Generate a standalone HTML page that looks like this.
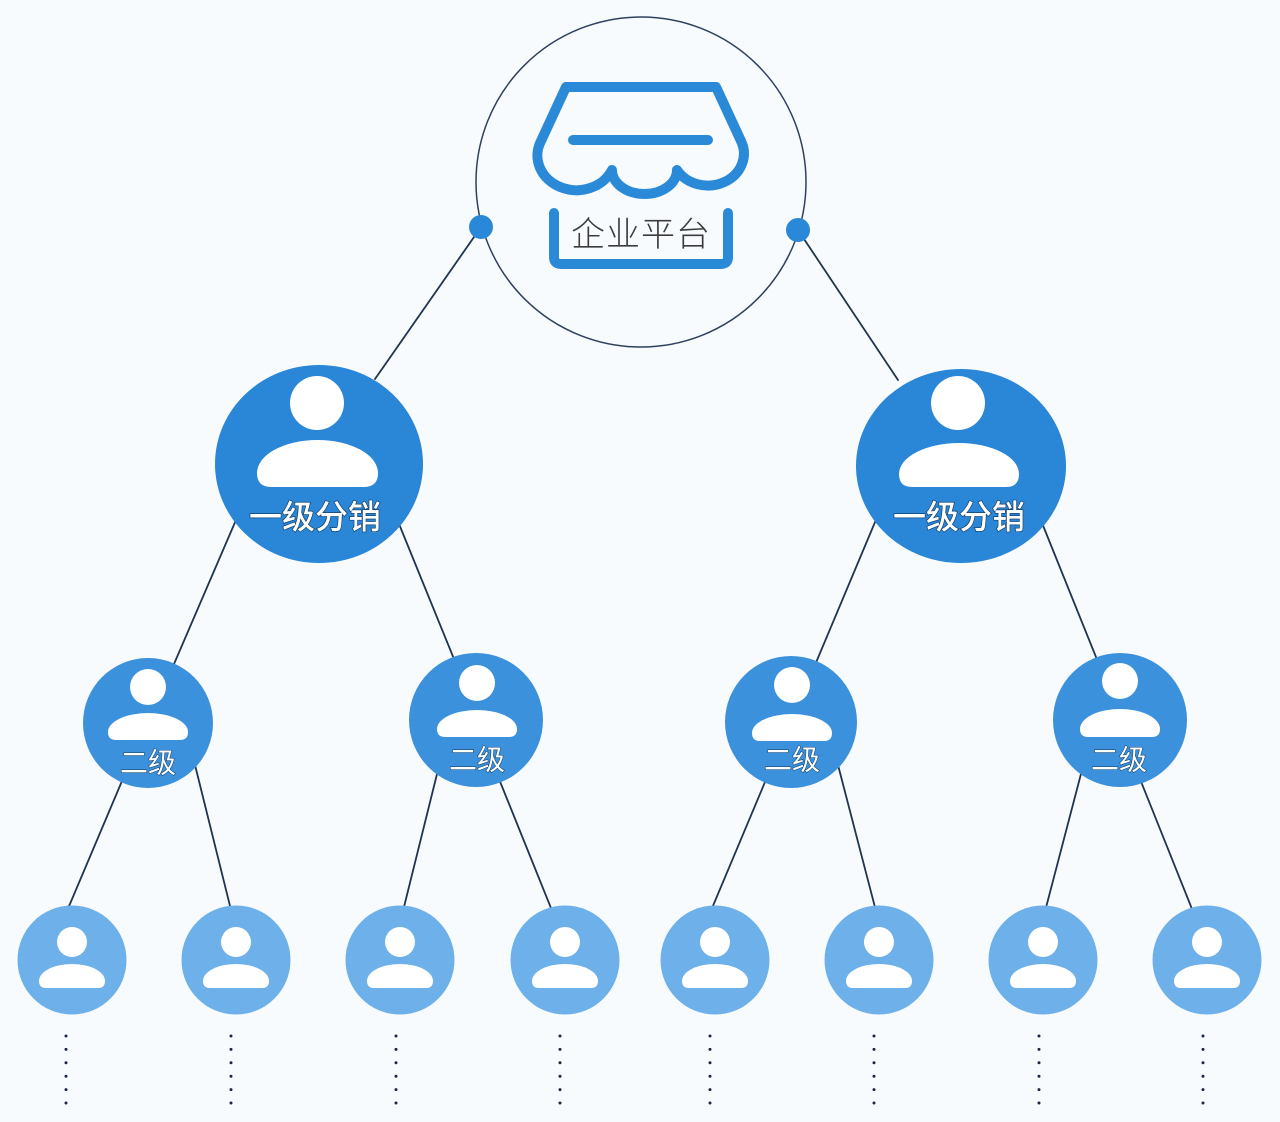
<!DOCTYPE html>
<html>
<head>
<meta charset="utf-8">
<style>
  html,body{margin:0;padding:0;background:#f8fbfe;}
  svg{display:block;}
  .t1{font-family:"Liberation Sans","Noto Sans CJK SC",sans-serif;font-size:33px;font-weight:500;fill:#ffffff;stroke:#16416e;stroke-width:1.4px;paint-order:stroke;}
  .t2{font-family:"Liberation Sans","Noto Sans CJK SC",sans-serif;font-size:28px;font-weight:400;fill:#ffffff;stroke:#1b4a78;stroke-width:1.2px;paint-order:stroke;}
  .t0{font-family:"Liberation Sans","Noto Sans CJK SC",sans-serif;font-size:34px;font-weight:300;fill:#3c3c3c;letter-spacing:1px;}
</style>
</head>
<body>
<svg width="1280" height="1122" viewBox="0 0 1280 1122" xmlns="http://www.w3.org/2000/svg">
  <rect x="0" y="0" width="1280" height="1122" fill="#f8fbfe"/>

  <!-- connector lines -->
  <g stroke="#1f3452" stroke-width="1.8" fill="none" stroke-linecap="round">
    <line x1="481" y1="227" x2="375" y2="379"/>
    <line x1="798" y1="230" x2="898" y2="380"/>
    <line x1="236" y1="520" x2="174" y2="664"/>
    <line x1="397" y1="519" x2="454" y2="659"/>
    <line x1="878" y1="515" x2="815" y2="665"/>
    <line x1="1040" y1="518" x2="1098" y2="662"/>
    <line x1="122" y1="781" x2="67" y2="911"/>
    <line x1="195" y1="765" x2="232" y2="914"/>
    <line x1="438" y1="770" x2="401" y2="919"/>
    <line x1="499" y1="779" x2="555" y2="918"/>
    <line x1="765" y1="782" x2="710" y2="913"/>
    <line x1="838" y1="765" x2="877" y2="915"/>
    <line x1="1082" y1="770" x2="1043" y2="919"/>
    <line x1="1140" y1="779" x2="1196" y2="919"/>
  </g>

  <!-- top platform circle -->
  <circle cx="641" cy="182" r="165" fill="none" stroke="#2f405f" stroke-width="1.5"/>
  <circle cx="481" cy="227" r="12" fill="#2a88d8"/>
  <circle cx="798" cy="230" r="12" fill="#2a88d8"/>

  <!-- store icon -->
  <g fill="none" stroke="#2a8ad8" stroke-width="10" stroke-linecap="round" stroke-linejoin="round">
    <path d="M566,87 L716,87 L741,141 A36,32 0 0 1 677,170 A32.5,24 0 0 1 612,170 A36,32 0 0 1 541,141 Z"/>
    <line x1="573" y1="140" x2="708" y2="140"/>
    <path d="M554,213 L554,257 Q554,264 561,264 L721,264 Q728,264 728,257 L728,213"/>
  </g>
  <text class="t0" x="641" y="235" text-anchor="middle" dominant-baseline="central">企业平台</text>

  <!-- level 1 -->
  <ellipse cx="319" cy="464" rx="104" ry="99" fill="#2a86d6"/>
  <circle cx="317" cy="403" r="27" fill="#ffffff"/>
  <path d="M257,473 A60.5,33 0 0 1 378,473 Q378,487 364,487 L271,487 Q257,487 257,473Z" fill="#ffffff"/>
  <text class="t1" x="315" y="517" text-anchor="middle" dominant-baseline="central">一级分销</text>

  <ellipse cx="961" cy="466" rx="105" ry="97" fill="#2a86d6"/>
  <circle cx="958" cy="403" r="27" fill="#ffffff"/>
  <path d="M899,474 A60,31 0 0 1 1019,474 Q1019,487 1006,487 L912,487 Q899,487 899,474Z" fill="#ffffff"/>
  <text class="t1" x="959" y="517" text-anchor="middle" dominant-baseline="central">一级分销</text>

  <!-- level 2 -->
  <g fill="#3b91dc">
    <circle cx="148" cy="723" r="65"/>
    <circle cx="476" cy="720" r="67"/>
    <circle cx="791" cy="722" r="66"/>
    <circle cx="1120" cy="720" r="67"/>
  </g>
  <g fill="#ffffff">
    <circle cx="148" cy="687" r="18"/>
    <path d="M108,732 A40,19 0 0 1 188,732 Q188,740 180,740 L116,740 Q108,740 108,732Z"/>
    <circle cx="477" cy="683" r="18"/>
    <path d="M437,729 A40,19 0 0 1 517,729 Q517,737 509,737 L445,737 Q437,737 437,729Z"/>
    <circle cx="792" cy="685" r="18"/>
    <path d="M752,733 A40,19 0 0 1 832,733 Q832,741 824,741 L760,741 Q752,741 752,733Z"/>
    <circle cx="1120" cy="681" r="18"/>
    <path d="M1080,729 A40,20 0 0 1 1160,729 Q1160,737 1152,737 L1088,737 Q1080,737 1080,729Z"/>
  </g>
  <text class="t2" x="148" y="763" text-anchor="middle" dominant-baseline="central">二级</text>
  <text class="t2" x="477" y="760" text-anchor="middle" dominant-baseline="central">二级</text>
  <text class="t2" x="792" y="760" text-anchor="middle" dominant-baseline="central">二级</text>
  <text class="t2" x="1119" y="760" text-anchor="middle" dominant-baseline="central">二级</text>

  <!-- level 3 -->
  <g fill="#6eb0ea">
    <circle cx="72" cy="960" r="54.5"/>
    <circle cx="236" cy="960" r="54.5"/>
    <circle cx="400" cy="960" r="54.5"/>
    <circle cx="565" cy="960" r="54.5"/>
    <circle cx="715" cy="960" r="54.5"/>
    <circle cx="879" cy="960" r="54.5"/>
    <circle cx="1043" cy="960" r="54.5"/>
    <circle cx="1207" cy="960" r="54.5"/>
  </g>
  <g fill="#ffffff">
    <circle cx="72" cy="942" r="15"/>
    <path d="M39,981 A33,17 0 0 1 105,981 Q105,988 98,988 L46,988 Q39,988 39,981Z"/>
    <circle cx="236" cy="942" r="15"/>
    <path d="M203,981 A33,17 0 0 1 269,981 Q269,988 262,988 L210,988 Q203,988 203,981Z"/>
    <circle cx="400" cy="942" r="15"/>
    <path d="M367,981 A33,17 0 0 1 433,981 Q433,988 426,988 L374,988 Q367,988 367,981Z"/>
    <circle cx="565" cy="942" r="15"/>
    <path d="M532,981 A33,17 0 0 1 598,981 Q598,988 591,988 L539,988 Q532,988 532,981Z"/>
    <circle cx="715" cy="942" r="15"/>
    <path d="M682,981 A33,17 0 0 1 748,981 Q748,988 741,988 L689,988 Q682,988 682,981Z"/>
    <circle cx="879" cy="942" r="15"/>
    <path d="M846,981 A33,17 0 0 1 912,981 Q912,988 905,988 L853,988 Q846,988 846,981Z"/>
    <circle cx="1043" cy="942" r="15"/>
    <path d="M1010,981 A33,17 0 0 1 1076,981 Q1076,988 1069,988 L1017,988 Q1010,988 1010,981Z"/>
    <circle cx="1207" cy="942" r="15"/>
    <path d="M1174,981 A33,17 0 0 1 1240,981 Q1240,988 1233,988 L1181,988 Q1174,988 1174,981Z"/>
  </g>

  <!-- dotted continuation -->
  <g stroke="#1a2844" stroke-width="3" stroke-linecap="round" stroke-dasharray="0 13.4" fill="none">
    <line x1="66" y1="1036" x2="66" y2="1104"/>
    <line x1="231" y1="1036" x2="231" y2="1104"/>
    <line x1="396" y1="1036" x2="396" y2="1104"/>
    <line x1="560" y1="1036" x2="560" y2="1104"/>
    <line x1="710" y1="1036" x2="710" y2="1104"/>
    <line x1="874" y1="1036" x2="874" y2="1104"/>
    <line x1="1039" y1="1036" x2="1039" y2="1104"/>
    <line x1="1203" y1="1036" x2="1203" y2="1104"/>
  </g>
</svg>
</body>
</html>
